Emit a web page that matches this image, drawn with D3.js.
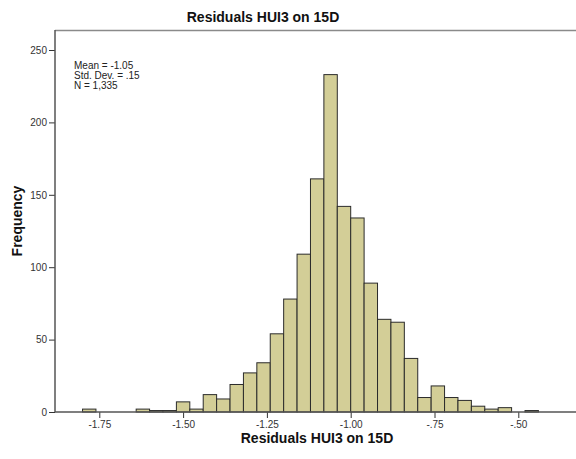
<!DOCTYPE html>
<html><head><meta charset="utf-8">
<script src="https://cdn.jsdelivr.net/npm/d3@7"></script>
<style>
html,body{margin:0;padding:0;background:#fff;}
svg{display:block;font-family:"Liberation Sans",Arial,sans-serif;}
</style></head>
<body><svg id="c" width="576" height="459"></svg>
<script>
const binLower = [-1.80,-1.76,-1.72,-1.68,-1.64,-1.60,-1.56,-1.52,-1.48,-1.44,-1.40,-1.36,-1.32,-1.28,-1.24,-1.20,-1.16,-1.12,-1.08,-1.04,-1.00,-0.96,-0.92,-0.88,-0.84,-0.80,-0.76,-0.72,-0.68,-0.64,-0.60,-0.56,-0.52,-0.48];
const counts   = [2,0,0,0,2,1,1,7,2,12,9,19,27,34,54,78,109,161,233,142,134,89,64,62,37,10,18,10,8,4,2,3,0,1];
const binWidth = 0.04;
const xTickValues = [-1.75,-1.50,-1.25,-1.00,-0.75,-0.50];
const xTickLabels = ["-1.75","-1.50","-1.25","-1.00","-.75","-.50"];
const yTickValues = [0,50,100,150,200,250];
const statsLines = ["Mean = -1.05","Std. Dev. = .15","N = 1,335"];
const titleText = "Residuals HUI3 on 15D";
const xTitle = "Residuals HUI3 on 15D";
const yTitle = "Frequency";

const svg = d3.select("#c");
const L = 55, R = 576, T = 30, B = 412;
const x = d3.scaleLinear().domain([-1.75,-0.50]).range([99.3,518.3]);
const y = d3.scaleLinear().domain([0,250]).range([B,50]);

// frame top line
svg.append("line").attr("x1",L).attr("x2",R).attr("y1",T+0.5).attr("y2",T+0.5)
  .attr("stroke","#8a8a8a").attr("stroke-width",1.6);

// bars
const data = binLower.map((b,i)=>({x0:b,x1:b+binWidth,c:counts[i]})).filter(d=>d.c>0);
svg.append("g").selectAll("rect").data(data).join("rect")
  .attr("x",d=>x(d.x0)).attr("width",d=>x(d.x1)-x(d.x0))
  .attr("y",d=>y(d.c)).attr("height",d=>y(0)-y(d.c))
  .attr("fill","#d3ce97").attr("stroke","#2b2b2b").attr("stroke-width",1);

// axes
const yAxis = d3.axisLeft(y).tickValues(yTickValues).tickSize(6).tickPadding(2).tickFormat(d3.format("d"));
const gy = svg.append("g").attr("transform",`translate(${L},0)`).call(yAxis);
gy.select(".domain").remove();
gy.append("line").attr("x1",0).attr("x2",0).attr("y1",T).attr("y2",B).attr("stroke","#555").attr("stroke-width",1.5);
gy.selectAll(".tick line").attr("stroke","#333");
gy.selectAll(".tick text").attr("font-size",10).attr("fill","#333");

const xAxis = d3.axisBottom(x).tickValues(xTickValues).tickSize(6).tickPadding(3)
  .tickFormat((d,i)=>xTickLabels[i]);
const gx = svg.append("g").attr("transform",`translate(0,${B})`).call(xAxis);
gx.select(".domain").remove();
gx.append("line").attr("x1",L).attr("x2",R).attr("y1",0).attr("y2",0).attr("stroke","#555").attr("stroke-width",1.5);
gx.selectAll(".tick line").attr("stroke","#333");
gx.selectAll(".tick text").attr("font-size",10).attr("fill","#333");

// stats text
svg.append("g").selectAll("text").data(statsLines).join("text")
  .attr("x",74).attr("y",(d,i)=>69+i*10).attr("font-size",10).attr("fill","#222").text(d=>d);

// titles
svg.append("text").attr("x",263).attr("y",22).attr("text-anchor","middle")
  .attr("font-size",14).attr("font-weight","bold").attr("fill","#111").text(titleText);
svg.append("text").attr("x",317).attr("y",443).attr("text-anchor","middle")
  .attr("font-size",14).attr("font-weight","bold").attr("fill","#111").text(xTitle);
svg.append("text").attr("transform","translate(22,221) rotate(-90)").attr("text-anchor","middle")
  .attr("font-size",14).attr("font-weight","bold").attr("fill","#111").text(yTitle);
</script></body></html>
